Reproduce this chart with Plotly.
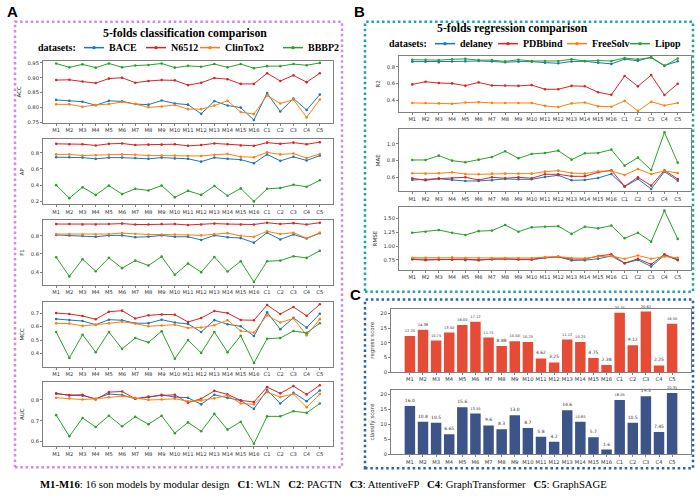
import plotly.graph_objects as go

W, H = 700, 504

models = ["M1", "M2", "M3", "M4", "M5", "M6", "M7", "M8", "M9", "M10", "M11", "M12",
          "M13", "M14", "M15", "M16", "C1", "C2", "C3", "C4", "C5"]

cls_names = ["BACE", "N6512", "ClinTox2", "BBBP2"]
reg_names = ["delaney", "PDBbind", "FreeSolv", "Lipop"]

# ---- classification (panel A)
acc_bace = [0.825, 0.822, 0.819, 0.807, 0.822, 0.820, 0.811, 0.809, 0.823, 0.813, 0.809, 0.778, 0.821, 0.806, 0.799, 0.757, 0.848, 0.786, 0.830, 0.791, 0.843]
acc_n6512 = [0.892, 0.893, 0.887, 0.882, 0.897, 0.900, 0.883, 0.889, 0.892, 0.891, 0.875, 0.883, 0.899, 0.895, 0.879, 0.879, 0.915, 0.889, 0.908, 0.885, 0.915]
acc_clintox2 = [0.810, 0.810, 0.802, 0.808, 0.811, 0.818, 0.811, 0.800, 0.803, 0.808, 0.794, 0.794, 0.806, 0.822, 0.784, 0.777, 0.840, 0.813, 0.826, 0.766, 0.826]
acc_bbbp2 = [0.948, 0.935, 0.945, 0.934, 0.948, 0.935, 0.941, 0.943, 0.948, 0.934, 0.940, 0.937, 0.946, 0.935, 0.946, 0.932, 0.939, 0.939, 0.946, 0.942, 0.950]

ap_bace = [0.745, 0.745, 0.740, 0.725, 0.740, 0.740, 0.735, 0.725, 0.740, 0.730, 0.725, 0.690, 0.740, 0.725, 0.715, 0.670, 0.780, 0.700, 0.750, 0.705, 0.765]
ap_n6512 = [0.910, 0.905, 0.905, 0.890, 0.910, 0.915, 0.895, 0.900, 0.900, 0.905, 0.885, 0.895, 0.915, 0.905, 0.890, 0.885, 0.925, 0.910, 0.925, 0.905, 0.930]
ap_clintox2 = [0.780, 0.780, 0.765, 0.770, 0.775, 0.780, 0.775, 0.765, 0.765, 0.765, 0.760, 0.760, 0.775, 0.785, 0.750, 0.745, 0.805, 0.780, 0.790, 0.735, 0.785]
ap_bbbp2 = [0.400, 0.240, 0.375, 0.280, 0.395, 0.290, 0.355, 0.335, 0.395, 0.250, 0.330, 0.280, 0.390, 0.270, 0.360, 0.200, 0.355, 0.365, 0.405, 0.380, 0.460]

f1_bace = [0.810, 0.805, 0.800, 0.790, 0.805, 0.805, 0.785, 0.790, 0.805, 0.790, 0.790, 0.755, 0.805, 0.785, 0.775, 0.725, 0.835, 0.760, 0.815, 0.770, 0.830]
f1_n6512 = [0.930, 0.930, 0.925, 0.925, 0.930, 0.935, 0.925, 0.925, 0.930, 0.930, 0.920, 0.925, 0.935, 0.930, 0.925, 0.925, 0.945, 0.930, 0.940, 0.925, 0.945]
f1_clintox2 = [0.820, 0.820, 0.815, 0.815, 0.820, 0.830, 0.820, 0.815, 0.815, 0.815, 0.810, 0.805, 0.820, 0.830, 0.800, 0.790, 0.850, 0.820, 0.835, 0.775, 0.835]
f1_bbbp2 = [0.564, 0.353, 0.542, 0.410, 0.557, 0.444, 0.527, 0.473, 0.571, 0.371, 0.495, 0.400, 0.567, 0.407, 0.520, 0.291, 0.520, 0.527, 0.575, 0.557, 0.636]

mcc_bace = [0.656, 0.648, 0.641, 0.614, 0.651, 0.647, 0.625, 0.625, 0.651, 0.630, 0.620, 0.560, 0.648, 0.617, 0.602, 0.530, 0.705, 0.580, 0.665, 0.592, 0.695]
mcc_n6512 = [0.700, 0.693, 0.678, 0.654, 0.710, 0.718, 0.660, 0.683, 0.690, 0.688, 0.634, 0.663, 0.715, 0.700, 0.649, 0.647, 0.760, 0.693, 0.745, 0.680, 0.765]
mcc_clintox2 = [0.624, 0.622, 0.605, 0.612, 0.624, 0.636, 0.622, 0.602, 0.608, 0.614, 0.590, 0.593, 0.610, 0.647, 0.568, 0.556, 0.683, 0.630, 0.660, 0.535, 0.655]
mcc_bbbp2 = [0.560, 0.368, 0.540, 0.410, 0.560, 0.435, 0.515, 0.483, 0.565, 0.362, 0.500, 0.405, 0.560, 0.410, 0.532, 0.330, 0.510, 0.515, 0.567, 0.553, 0.625]

auc_bace = [0.832, 0.822, 0.821, 0.806, 0.829, 0.824, 0.806, 0.813, 0.825, 0.814, 0.811, 0.779, 0.825, 0.810, 0.797, 0.757, 0.848, 0.783, 0.835, 0.794, 0.846]
auc_n6512 = [0.830, 0.824, 0.825, 0.802, 0.838, 0.841, 0.806, 0.816, 0.822, 0.825, 0.787, 0.806, 0.844, 0.827, 0.798, 0.790, 0.862, 0.832, 0.867, 0.827, 0.871]
auc_clintox2 = [0.811, 0.808, 0.802, 0.806, 0.813, 0.819, 0.810, 0.800, 0.802, 0.806, 0.794, 0.798, 0.808, 0.822, 0.783, 0.779, 0.838, 0.814, 0.829, 0.765, 0.829]
auc_bbbp2 = [0.727, 0.625, 0.713, 0.670, 0.724, 0.673, 0.719, 0.683, 0.724, 0.640, 0.692, 0.649, 0.733, 0.657, 0.695, 0.589, 0.721, 0.721, 0.746, 0.738, 0.783]

# ---- regression (panel B)
r2_delaney = [0.862, 0.862, 0.855, 0.864, 0.866, 0.870, 0.864, 0.855, 0.862, 0.862, 0.850, 0.842, 0.864, 0.866, 0.850, 0.835, 0.892, 0.872, 0.915, 0.815, 0.866]
r2_pdbbind = [0.588, 0.620, 0.605, 0.600, 0.573, 0.612, 0.575, 0.575, 0.570, 0.580, 0.530, 0.530, 0.570, 0.566, 0.494, 0.463, 0.690, 0.565, 0.700, 0.460, 0.595]
r2_freesolv = [0.365, 0.365, 0.360, 0.355, 0.370, 0.375, 0.365, 0.365, 0.365, 0.365, 0.330, 0.315, 0.360, 0.370, 0.325, 0.320, 0.390, 0.270, 0.380, 0.335, 0.365]
r2_lipop = [0.885, 0.885, 0.880, 0.890, 0.895, 0.880, 0.880, 0.865, 0.885, 0.870, 0.870, 0.870, 0.890, 0.870, 0.875, 0.870, 0.905, 0.890, 0.910, 0.810, 0.900]

mae_delaney = [0.568, 0.572, 0.584, 0.568, 0.556, 0.556, 0.564, 0.580, 0.576, 0.576, 0.604, 0.624, 0.564, 0.568, 0.592, 0.640, 0.488, 0.580, 0.460, 0.668, 0.560]
mae_pdbbind = [0.588, 0.564, 0.584, 0.588, 0.600, 0.568, 0.600, 0.588, 0.600, 0.588, 0.636, 0.636, 0.612, 0.612, 0.660, 0.684, 0.492, 0.600, 0.500, 0.684, 0.580]
mae_freesolv = [0.648, 0.644, 0.648, 0.660, 0.640, 0.636, 0.644, 0.644, 0.644, 0.644, 0.668, 0.680, 0.652, 0.644, 0.672, 0.676, 0.628, 0.700, 0.640, 0.676, 0.652]
mae_lipop = [0.808, 0.808, 0.860, 0.800, 0.780, 0.812, 0.844, 0.912, 0.828, 0.880, 0.892, 0.920, 0.812, 0.888, 0.892, 0.932, 0.740, 0.836, 0.688, 1.140, 0.776]

rmse_delaney = [0.765, 0.760, 0.765, 0.755, 0.745, 0.750, 0.760, 0.770, 0.755, 0.755, 0.785, 0.805, 0.740, 0.745, 0.770, 0.820, 0.690, 0.750, 0.630, 0.835, 0.745]
rmse_pdbbind = [0.760, 0.745, 0.755, 0.755, 0.765, 0.745, 0.765, 0.765, 0.765, 0.760, 0.795, 0.805, 0.765, 0.765, 0.820, 0.850, 0.690, 0.770, 0.670, 0.850, 0.755]
rmse_freesolv = [0.790, 0.790, 0.790, 0.795, 0.785, 0.785, 0.785, 0.785, 0.785, 0.785, 0.800, 0.810, 0.785, 0.780, 0.810, 0.820, 0.770, 0.830, 0.770, 0.810, 0.790]
rmse_lipop = [1.240, 1.260, 1.290, 1.240, 1.200, 1.270, 1.280, 1.380, 1.260, 1.340, 1.350, 1.360, 1.220, 1.350, 1.320, 1.370, 1.140, 1.240, 1.080, 1.640, 1.130]

# ---- scores (panel C)
regress_score = [12.25, 14.38, 10.75, 13.50, 16.00, 17.12, 11.75, 8.88, 10.50, 10.25, 4.62, 3.25, 11.12, 10.25, 4.75, 2.38, 20.25, 9.12, 20.62, 2.25, 16.50]
classify_score = [16.0, 10.8, 10.5, 6.65, 15.6, 13.55, 9.6, 8.3, 13.0, 8.7, 5.8, 4.2, 14.6, 10.85, 5.7, 1.6, 18.05, 10.5, 19.3, 7.45, 20.35]

line_colors = ["#1f77b4", "#d62728", "#ff7f0e", "#2ca02c"]
TICKFONT = dict(family="DejaVu Sans", size=5.2, color="#333333")
SERIF = "Liberation Serif"
AXLINE = "#808080"


def dx(a, b):
    return [a / W, b / W]


def dy(top, bottom):
    return [1 - bottom / H, 1 - top / H]


fig = go.Figure()
layout = {}

panels = [
    (1, (43, 333), (60, 123), "ACC", [0.747, 0.958], [0.75, 0.80, 0.85, 0.90, 0.95], ".2f",
     [acc_bace, acc_n6512, acc_clintox2, acc_bbbp2], cls_names),
    (2, (43, 333), (139, 205), "AP", [0.163, 0.971], [0.2, 0.4, 0.6, 0.8], ".1f",
     [ap_bace, ap_n6512, ap_clintox2, ap_bbbp2], cls_names),
    (3, (43, 333), (221, 286), "F1", [0.261, 0.972], [0.4, 0.6, 0.8], ".1f",
     [f1_bace, f1_n6512, f1_clintox2, f1_bbbp2], cls_names),
    (4, (43, 333), (303, 369), "MCC", [0.30, 0.785], [0.4, 0.5, 0.6, 0.7], ".1f",
     [mcc_bace, mcc_n6512, mcc_clintox2, mcc_bbbp2], cls_names),
    (5, (43, 333), (384, 449), "AUC", [0.576, 0.887], [0.6, 0.7, 0.8], ".1f",
     [auc_bace, auc_n6512, auc_clintox2, auc_bbbp2], cls_names),
    (6, (399, 691), (55, 112), "R2", [0.255, 0.935], [0.4, 0.6, 0.8], ".1f",
     [r2_delaney, r2_pdbbind, r2_freesolv, r2_lipop], reg_names),
    (7, (399, 691), (129, 192), "MAE", [0.43, 1.18], [0.6, 0.8, 1.0], ".1f",
     [mae_delaney, mae_pdbbind, mae_freesolv, mae_lipop], reg_names),
    (8, (399, 691), (208, 271), "RMSE", [0.57, 1.70], [0.75, 1.00, 1.25, 1.50], ".2f",
     [rmse_delaney, rmse_pdbbind, rmse_freesolv, rmse_lipop], reg_names),
]


def axis_common():
    return dict(showline=True, mirror=True, linecolor=AXLINE, linewidth=1,
                ticks="outside", ticklen=2, tickcolor=AXLINE, tickfont=TICKFONT,
                showgrid=False, zeroline=False)


for idx, xd, ydm, title, yr, ticks, fmt, series, names in panels:
    xa = "x" if idx == 1 else f"x{idx}"
    ya = "y" if idx == 1 else f"y{idx}"
    for s, name, col in zip(series, names, line_colors):
        fig.add_trace(go.Scatter(
            x=models, y=s, name=name, mode="lines+markers",
            line=dict(color=col, width=1), marker=dict(color=col, size=2.6),
            xaxis=xa, yaxis=ya, showlegend=False,
        ))
    key = "" if idx == 1 else str(idx)
    layout[f"xaxis{key}"] = dict(domain=dx(*xd), anchor=ya, type="category", range=[-1, 21],
                                 tickangle=0, **axis_common())
    layout[f"yaxis{key}"] = dict(
        domain=dy(*ydm), anchor=xa, range=yr, tickvals=ticks, tickformat=fmt,
        title=dict(text=title, font=dict(family="DejaVu Sans", size=5.5, color="#333333"), standoff=5),
        **axis_common())

bars = [
    (9, (391, 691), (310, 374), "regress score", [0, 21.65], regress_score, "#E64B35",
     [f"{v:.2f}" for v in regress_score]),
    (10, (391, 691), (392, 457), "classify score", [0, 21.37], classify_score, "#3C5488",
     [str(v) for v in classify_score]),
]
for idx, xd, ydm, title, yr, vals, col, labels in bars:
    xa, ya = f"x{idx}", f"y{idx}"
    fig.add_trace(go.Bar(
        x=models, y=vals, marker=dict(color=col, line=dict(width=0)), width=0.8,
        text=labels, textposition="outside", cliponaxis=False,
        textfont=dict(family="DejaVu Sans", size=4.5, color="#333333"),
        xaxis=xa, yaxis=ya, showlegend=False,
    ))
    layout[f"xaxis{idx}"] = dict(domain=dx(*xd), anchor=ya, type="category", range=[-1.44, 21.44],
                                 tickangle=0, **axis_common())
    layout[f"yaxis{idx}"] = dict(
        domain=dy(*ydm), anchor=xa, range=yr, tickvals=[0, 5, 10, 15, 20],
        title=dict(text=title, font=dict(family="DejaVu Sans", size=5.5, color="#333333"), standoff=5),
        **axis_common())

shapes = [
    dict(type="rect", xref="paper", yref="paper", x0=15 / W, x1=342 / W, y0=1 - 470 / H, y1=1 - 21 / H,
         line=dict(color="#d08ae0", width=2.5, dash="2.5px,2.8px")),
    dict(type="rect", xref="paper", yref="paper", x0=365 / W, x1=693 / W, y0=1 - 293 / H, y1=1 - 21 / H,
         line=dict(color="#1ea5a8", width=2.5, dash="2.5px,2.8px")),
    dict(type="rect", xref="paper", yref="paper", x0=365 / W, x1=693 / W, y0=1 - 471 / H, y1=1 - 301 / H,
         line=dict(color="#2f62a8", width=2.5, dash="2.5px,2.8px")),
]

annotations = [
    dict(text="<b>5-folds classification comparison</b>", x=185 / W, y=1 - 32 / H, xref="paper", yref="paper",
         showarrow=False, font=dict(family=SERIF, size=11.8, color="black"), xanchor="center", yanchor="middle"),
    dict(text="<b>5-folds regression comparison</b>", x=512 / W, y=1 - 27 / H, xref="paper", yref="paper",
         showarrow=False, font=dict(family=SERIF, size=11.8, color="black"), xanchor="center", yanchor="middle"),
    dict(text="<b>A</b>", x=5 / W, y=1 - 11 / H, xref="paper", yref="paper", showarrow=False,
         font=dict(family="Liberation Sans", size=15, color="black"), xanchor="left", yanchor="middle"),
    dict(text="<b>B</b>", x=352 / W, y=1 - 11 / H, xref="paper", yref="paper", showarrow=False,
         font=dict(family="Liberation Sans", size=15, color="black"), xanchor="left", yanchor="middle"),
    dict(text="<b>C</b>", x=348 / W, y=1 - 296 / H, xref="paper", yref="paper", showarrow=False,
         font=dict(family="Liberation Sans", size=15, color="black"), xanchor="left", yanchor="middle"),
    dict(text="<b>M1-M16</b>: 16 son models by modular design   <b>C1</b>: WLN   <b>C2</b>: PAGTN   "
              "<b>C3</b>: AttentiveFP   <b>C4</b>: GraphTransformer   <b>C5</b>: GraphSAGE",
         x=323 / W, y=1 - 487 / H, xref="paper", yref="paper", showarrow=False,
         font=dict(family=SERIF, size=10.7, color="black"), xanchor="center", yanchor="middle"),
]

# ---- hand-placed legends (key line + dot + bold serif label), pixel layout
LEG_FONT = dict(family=SERIF, size=10, color="black")
legend_specs = [
    (78, 47, [84, 146, 200, 283], cls_names),
    (429, 43, [435, 498, 567, 630], reg_names),
]
KEY_LEN = 20
for title_right, ly, starts, names in legend_specs:
    annotations.append(dict(text="<b>datasets:</b>", x=title_right / W, y=1 - ly / H, xref="paper", yref="paper",
                            showarrow=False, font=LEG_FONT, xanchor="right", yanchor="middle"))
    for x0, name, col in zip(starts, names, line_colors):
        shapes.append(dict(type="line", xref="paper", yref="paper", x0=x0 / W, x1=(x0 + KEY_LEN) / W,
                           y0=1 - ly / H, y1=1 - ly / H, line=dict(color=col, width=1.5)))
        cx = x0 + KEY_LEN / 2
        shapes.append(dict(type="circle", xref="paper", yref="paper", x0=(cx - 1.7) / W, x1=(cx + 1.7) / W,
                           y0=1 - (ly + 1.7) / H, y1=1 - (ly - 1.7) / H, fillcolor=col, line=dict(width=0)))
        annotations.append(dict(text=f"<b>{name}</b>", x=(x0 + KEY_LEN + 3) / W, y=1 - ly / H,
                                xref="paper", yref="paper", showarrow=False, font=LEG_FONT,
                                xanchor="left", yanchor="middle"))

fig.update_layout(
    width=W, height=H, margin=dict(l=0, r=0, t=0, b=0),
    paper_bgcolor="white", plot_bgcolor="white", showlegend=False,
    shapes=shapes, annotations=annotations,
    **layout,
)

fig.write_html("out.html", config={"displayModeBar": False},
               post_script="document.body.style.margin='0px';")
